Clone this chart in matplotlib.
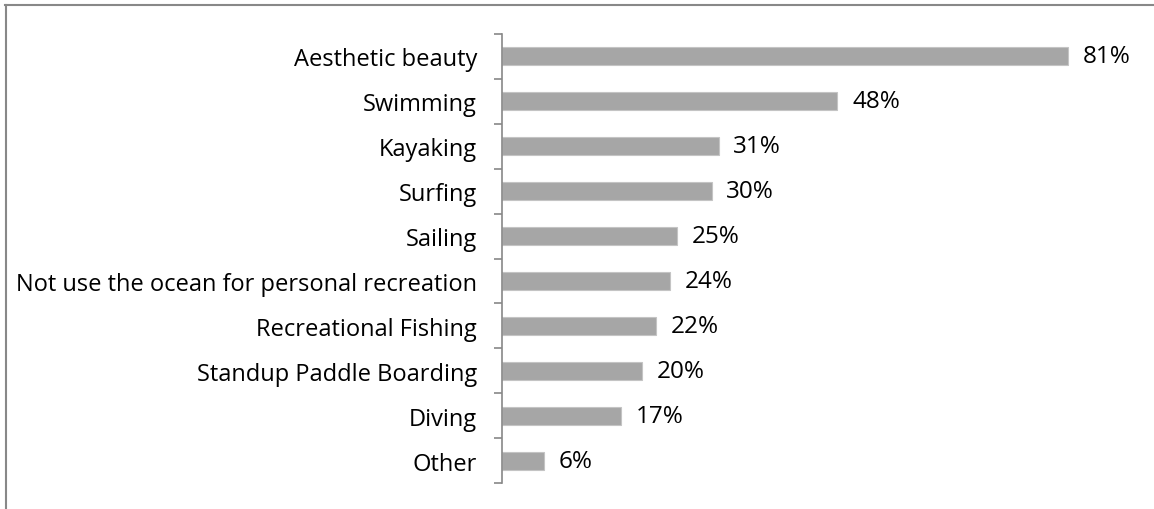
import matplotlib.pyplot as plt
from matplotlib.lines import Line2D
import numpy as np

categories = ['Aesthetic beauty', 'Swimming', 'Kayaking', 'Surfing', 'Sailing',
              'Not use the ocean for personal recreation', 'Recreational Fishing',
              'Standup Paddle Boarding', 'Diving', 'Other']
values = [81, 48, 31, 30, 25, 24, 22, 20, 17, 6]

plt.rcParams['font.family'] = ['Open Sans', 'DejaVu Sans']

fig = plt.figure(figsize=(11.54, 5.10), dpi=100)
ax = fig.add_axes([502 / 1154, 26 / 510, 615 / 1154, 449 / 510])

y = np.arange(len(categories))
ax.barh(y, values, height=0.4, color='#a6a6a6', edgecolor='#c4c4c4', linewidth=0.8)
for yi, v in zip(y, values):
    ax.text(v + 2.1, yi, '%d%%' % v, va='center', ha='left', fontsize=17.5, color='black')

ax.set_ylim(len(categories) - 0.5, -0.5)
ax.set_xlim(0, 88)
ax.set_yticks(y)
ax.set_yticklabels(categories, fontsize=17)
ax.set_yticks(np.arange(len(categories) + 1) - 0.5, minor=True)
ax.tick_params(axis='y', which='major', length=0, pad=18)
ax.tick_params(axis='y', which='minor', length=6, width=1.2, color='#888888')
ax.set_xticks([])
for s in ['top', 'right', 'bottom']:
    ax.spines[s].set_visible(False)
ax.spines['left'].set_color('#888888')
ax.spines['left'].set_linewidth(1.2)

# outer frame (only top and left are visible in the crop)
fig.add_artist(Line2D([5 / 1154, 1], [1 - 5.5 / 510, 1 - 5.5 / 510], color='#888888', lw=1.5))
fig.add_artist(Line2D([5.5 / 1154, 5.5 / 1154], [0, 1 - 5.5 / 510], color='#888888', lw=1.5))

fig.savefig('out.png', dpi=100)
